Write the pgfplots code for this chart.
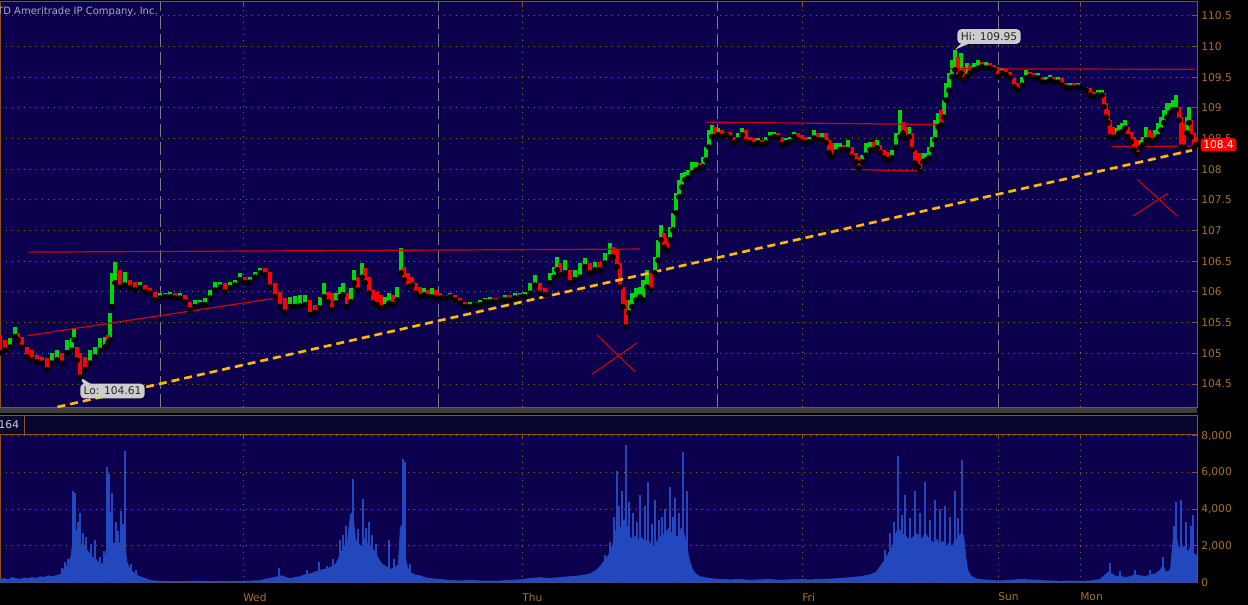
\documentclass[border=0pt]{standalone}
\usepackage{pgfplots}
\pgfplotsset{compat=1.18}
\usepackage{pgfplotstable}
\usepackage{fontspec}
\setmainfont{DejaVu Sans}
\definecolor{navy}{RGB}{12,0,78}
\definecolor{stripc}{RGB}{10,6,50}
\definecolor{hatchc}{RGB}{62,62,62}
\definecolor{oline}{RGB}{135,85,25}
\definecolor{gdot}{RGB}{150,100,30}
\definecolor{ttext}{RGB}{165,115,45}
\definecolor{upg}{RGB}{0,215,0}
\definecolor{dnr}{RGB}{255,0,0}
\definecolor{volb}{RGB}{35,72,190}
\definecolor{tred}{RGB}{210,0,10}
\definecolor{tyel}{RGB}{255,185,0}
\definecolor{cgray}{RGB}{205,205,205}
\definecolor{dgray}{RGB}{125,125,135}
\definecolor{cpy}{RGB}{170,170,200}
\newcommand{\fs}{\fontsize{8}{9.6}\selectfont}

\pgfplotstableread{
x lo hi c
0 105.01 105.30 0
5 105.05 105.22 0
10 105.10 105.25 1
15 105.27 105.43 1
18 105.22 105.33 0
22 105.10 105.27 0
27 104.94 105.10 0
32 104.89 105.05 0
37 104.86 104.97 0
42 104.84 104.94 0
47 104.73 104.92 0
52 104.84 105.01 1
57 104.89 105.05 1
62 104.84 105.01 0
67 105.01 105.22 1
72 105.05 105.25 1
74 105.22 105.41 1
77 104.89 105.10 0
80 104.61 105.01 0
85 104.73 104.94 0
90 104.84 105.05 1
95 104.94 105.10 1
100 105.05 105.25 1
105 105.10 105.27 1
108 105.17 105.30 0
110 105.22 105.66 1
112 105.76 106.31 1
115 106.15 106.49 1
120 106.08 106.36 0
125 106.11 106.33 1
130 106.07 106.20 0
135 106.03 106.16 0
140 106.07 106.16 1
145 106.00 106.11 0
150 105.98 106.07 0
155 105.87 106.00 0
160 105.90 105.98 1
165 105.92 105.98 1
170 105.92 106.00 1
175 105.90 105.98 0
180 105.90 105.98 1
185 105.84 105.95 0
190 105.71 105.84 0
195 105.76 105.87 1
200 105.79 105.87 1
205 105.79 105.90 1
210 105.90 106.03 1
215 106.03 106.16 1
220 106.08 106.16 1
225 106.00 106.15 0
230 106.07 106.16 1
235 106.11 106.20 1
240 106.20 106.31 1
245 106.15 106.24 0
250 106.16 106.24 1
255 106.24 106.33 1
260 106.31 106.39 1
265 106.28 106.39 0
270 106.08 106.33 0
275 105.92 106.15 0
280 105.76 106.00 0
285 105.67 105.90 0
290 105.76 105.92 1
295 105.76 105.93 1
300 105.77 105.95 1
305 105.79 105.95 1
310 105.63 105.87 0
315 105.66 105.79 0
320 105.74 105.92 1
324 105.92 106.15 1
328 105.84 106.00 0
332 105.71 105.98 0
336 105.82 105.98 1
340 105.92 106.08 1
343 105.95 106.15 1
347 105.76 105.98 0
351 105.84 106.07 1
354 106.15 106.36 1
358 106.03 106.24 0
362 106.24 106.47 1
365 106.15 106.39 0
369 105.98 106.24 0
373 105.82 106.03 0
377 105.79 106.00 0
381 105.74 105.95 0
385 105.76 105.92 1
389 105.82 105.98 1
393 105.79 105.95 0
397 105.87 106.08 1
401 106.31 106.72 1
404 106.20 106.41 0
408 106.08 106.31 0
412 106.11 106.24 0
416 105.98 106.15 0
420 105.92 106.08 0
424 105.95 106.07 1
428 105.92 106.03 0
432 105.92 106.07 1
436 105.90 106.03 0
440 105.90 105.98 0
445 105.90 105.95 0
450 105.92 105.98 1
455 105.87 105.95 0
460 105.82 105.90 0
465 105.76 105.84 0
470 105.76 105.84 1
475 105.79 105.84 1
480 105.79 105.87 1
485 105.84 105.90 1
490 105.84 105.92 1
495 105.84 105.90 0
500 105.87 105.92 1
505 105.87 105.95 1
510 105.87 105.95 0
515 105.90 105.98 1
520 105.92 105.98 1
525 105.92 106.00 1
530 105.98 106.15 1
535 106.11 106.28 1
540 105.98 106.15 0
545 105.95 106.07 0
550 106.15 106.31 1
554 106.24 106.41 1
557 106.36 106.57 1
560 106.28 106.47 0
565 106.31 106.52 1
570 106.15 106.36 0
575 106.20 106.36 1
580 106.24 106.47 1
585 106.41 106.55 1
590 106.31 106.47 0
595 106.36 106.49 1
600 106.36 106.49 0
605 106.47 106.64 1
610 106.57 106.80 1
613 106.57 106.73 0
617 106.41 106.68 0
620 106.08 106.47 0
623 105.76 106.08 0
626 105.43 105.87 0
629 105.66 105.87 1
632 105.76 105.98 1
636 105.87 106.07 1
640 105.92 106.08 1
643 105.87 106.20 1
647 106.08 106.36 1
651 106.03 106.31 0
655 106.31 106.57 1
658 106.52 106.85 1
661 106.85 107.09 1
664 106.73 106.96 0
667 106.68 106.88 0
670 106.85 107.06 1
673 107.01 107.29 1
676 107.29 107.61 1
679 107.55 107.83 1
682 107.71 107.94 1
685 107.83 107.96 1
688 107.86 107.99 1
692 107.94 108.12 1
696 107.99 108.12 1
700 108.02 108.10 0
703 108.04 108.20 1
706 108.15 108.36 1
709 108.36 108.64 1
712 108.53 108.72 1
715 108.53 108.69 0
718 108.56 108.67 1
722 108.53 108.64 0
726 108.56 108.61 1
730 108.51 108.61 0
734 108.43 108.53 0
738 108.48 108.59 1
742 108.56 108.67 1
746 108.45 108.64 0
750 108.43 108.53 0
754 108.40 108.51 0
758 108.43 108.51 1
762 108.40 108.48 0
766 108.43 108.53 1
770 108.51 108.61 1
774 108.53 108.61 1
778 108.51 108.59 0
782 108.40 108.53 0
786 108.43 108.51 1
790 108.45 108.53 1
794 108.53 108.61 1
798 108.48 108.59 0
802 108.45 108.56 0
806 108.43 108.53 0
810 108.45 108.53 1
814 108.51 108.64 1
818 108.48 108.59 0
822 108.48 108.59 1
826 108.43 108.59 0
829 108.27 108.48 0
832 108.20 108.43 0
836 108.28 108.43 1
840 108.32 108.43 1
844 108.32 108.40 0
848 108.32 108.48 1
852 108.20 108.36 0
856 108.12 108.27 0
859 108.02 108.20 0
862 108.12 108.23 1
866 108.23 108.43 1
870 108.32 108.45 1
874 108.32 108.45 0
877 108.35 108.48 1
880 108.27 108.40 0
884 108.19 108.32 0
888 108.15 108.28 0
892 108.19 108.32 1
896 108.36 108.59 1
900 108.53 108.97 1
903 108.59 108.77 0
906 108.51 108.69 0
909 108.53 108.69 1
912 108.32 108.59 0
915 108.10 108.32 0
918 108.04 108.27 0
920 107.96 108.27 0
923 108.12 108.27 1
926 108.15 108.27 1
929 108.19 108.36 1
932 108.32 108.53 1
935 108.48 108.80 1
938 108.69 108.92 1
941 108.72 108.97 0
944 108.85 109.13 1
946 109.13 109.41 1
949 109.29 109.57 1
952 109.51 109.78 1
955 109.62 109.95 1
958 109.51 109.83 0
961 109.57 109.90 1
964 109.46 109.67 0
967 109.51 109.73 1
970 109.57 109.70 0
974 109.62 109.73 1
978 109.65 109.78 1
982 109.67 109.75 0
986 109.65 109.75 1
990 109.65 109.73 0
994 109.62 109.70 0
998 109.51 109.67 0
1002 109.57 109.65 1
1006 109.54 109.65 0
1010 109.49 109.59 0
1014 109.34 109.49 0
1018 109.29 109.41 0
1022 109.37 109.51 1
1026 109.49 109.62 1
1030 109.51 109.59 0
1034 109.49 109.57 0
1038 109.49 109.57 1
1042 109.42 109.51 0
1046 109.42 109.51 1
1050 109.46 109.54 1
1054 109.42 109.51 0
1058 109.42 109.51 1
1062 109.37 109.49 0
1066 109.33 109.41 0
1070 109.33 109.41 1
1074 109.33 109.41 0
1078 109.34 109.41 1
1082 109.33 109.37 0
1086 109.29 109.34 0
1090 109.21 109.33 0
1094 109.18 109.26 0
1098 109.21 109.29 1
1102 109.21 109.29 1
1104 109.02 109.24 0
1106 108.85 109.08 0
1108 108.76 108.97 0
1110 108.53 108.80 0
1113 108.51 108.69 0
1116 108.53 108.67 1
1119 108.59 108.72 1
1122 108.61 108.76 1
1125 108.67 108.80 1
1128 108.53 108.69 0
1131 108.45 108.61 0
1134 108.32 108.53 0
1137 108.24 108.48 0
1140 108.35 108.48 1
1143 108.40 108.53 1
1146 108.48 108.69 1
1149 108.48 108.64 0
1152 108.43 108.59 0
1155 108.48 108.64 1
1158 108.53 108.76 1
1161 108.64 108.85 1
1164 108.76 108.97 1
1167 108.85 109.08 1
1170 108.92 109.08 1
1173 108.97 109.13 1
1176 108.97 109.21 1
1179 108.80 109.02 0
1181 108.36 108.85 0
1184 108.36 108.76 0
1187 108.59 108.85 1
1189 108.76 109.02 1
1191 108.53 108.80 0
1194 108.36 108.59 0
1196 108.40 108.53 0
}\price

\pgfplotstableread{
x v
0 200
4 250
8 180
12 300
16 250
20 200
24 280
28 250
32 300
36 250
40 350
44 300
48 400
52 350
56 400
60 450
63 700
66 900
69 1200
71 1500
73 2800
75 3000
77 2800
79 2600
81 2100
84 2000
87 1800
90 1600
93 1400
96 1300
99 1100
102 1000
105 1400
107 2200
109 3800
111 3900
113 2200
116 2100
119 2100
122 2500
125 2400
127 1200
129 900
132 650
135 500
138 400
142 300
146 250
150 150
155 120
160 100
170 90
180 80
190 100
200 110
210 80
220 100
230 90
240 100
250 110
260 140
266 220
272 280
278 350
282 400
286 300
290 250
295 300
300 350
305 450
310 500
315 600
320 700
325 750
330 850
335 1000
338 1300
341 1700
344 2000
347 2200
350 3700
353 3900
356 2300
359 2100
362 2000
365 2500
368 2100
371 2000
374 1800
377 1500
380 1200
383 1000
386 900
389 800
392 750
395 850
398 1000
400 3000
403 3300
405 1500
408 800
411 550
415 450
420 400
425 300
430 250
440 200
450 150
460 120
470 150
480 120
490 100
500 120
510 150
520 180
530 250
540 300
550 250
560 300
570 350
580 400
590 500
596 700
600 900
604 1200
608 1500
612 2000
615 2800
618 3200
621 3000
624 3500
627 3200
630 2500
633 2400
636 2600
639 2300
642 2500
645 2200
648 2400
651 2100
654 2000
657 2300
660 2500
663 2600
666 2800
669 3000
672 2700
675 2600
678 2500
681 3000
684 2800
687 2000
690 1200
693 700
696 500
700 350
710 250
720 200
730 180
740 200
750 150
760 180
770 200
780 150
790 180
800 200
810 180
820 200
830 220
840 250
850 300
860 350
870 450
876 600
880 900
884 1200
888 1600
892 2000
895 2600
898 3000
901 2800
904 2600
907 2500
910 2300
913 2500
916 2700
919 2600
922 2400
925 2800
928 2500
931 2300
934 2200
937 2400
940 2100
943 2300
946 2000
949 2200
952 2000
955 2300
958 2500
961 2700
964 2600
966 1500
968 700
971 400
975 250
980 200
990 150
1000 120
1010 150
1020 200
1030 180
1040 150
1050 120
1060 100
1070 120
1080 100
1090 120
1100 200
1104 400
1108 600
1112 500
1116 350
1120 400
1125 300
1130 350
1135 450
1140 400
1145 350
1150 450
1155 500
1160 700
1163 1000
1166 600
1170 700
1173 2500
1176 2700
1179 1900
1182 1950
1185 2000
1188 1700
1191 2100
1194 1600
1197 1500
}\vol

\pgfplotstableread{
x v
62 800
65 1100
68 1300
73 5000
75 4900
78 3300
80 3800
83 2700
86 2500
91 2100
95 2300
100 1400
104 1700
107 6300
109 5900
112 4900
116 3300
118 2800
121 3900
123 3200
125 7150
131 1000
136 700
279 800
307 700
319 1100
327 900
333 1300
340 2300
343 2600
346 3100
353 5650
358 2900
363 4550
366 3000
369 3300
372 2600
376 2100
389 2300
394 1300
403 6750
405 6550
410 1000
605 1500
610 2200
614 3600
617 6100
619 4200
622 5000
626 7500
629 4400
633 3800
637 3300
640 4800
645 4200
648 5500
652 3200
655 4500
659 3400
662 3600
665 4000
670 5200
673 3600
675 4600
679 3800
683 7100
687 5000
885 1800
890 2700
894 3300
898 6900
902 3700
905 4800
910 3500
915 5000
920 3800
925 5500
930 3400
935 4500
940 4000
945 4200
950 3600
955 5000
958 3500
962 6700
1110 1050
1120 650
1135 700
1150 700
1163 1400
1174 3100
1176 4400
1181 4500
1186 3300
1191 3100
1193 3700
}\spk

\begin{document}
\begin{tikzpicture}
\useasboundingbox (0,0) rectangle (936pt,-453.75pt);
\fill[black] (0,0) rectangle (936pt,-453.75pt);
% separator strip
\fill[hatchc] (0,-306pt) rectangle (897.75pt,-309.75pt);
\fill[stripc] (0,-311.25pt) rectangle (897.75pt,-325.5pt);
\draw[oline, line width=0.75pt] (0,-311.25pt) -- (897.75pt,-311.25pt) -- (897.75pt,-325.5pt);
\draw[oline, line width=0.75pt] (18pt,-311.25pt) -- (18pt,-325.5pt);
\node[anchor=east, text=cgray, font=\fs, inner sep=0pt] at (14.5pt,-318.4pt) {164};

\begin{axis}[
  at={(0pt,-1.5pt)}, anchor=north west, scale only axis,
  width=897.75pt, height=303.75pt,
  xmin=0, xmax=1197, ymin=104.125, ymax=110.728,
  clip=false,
  axis background/.style={fill=navy},
  axis line style={draw=oline, line width=0.75pt},
  ytick={104.5,105,105.5,106,106.5,107,107.5,108,108.5,109,109.5,110,110.5},
  yticklabels={104.5,105,105.5,106,106.5,107,107.5,108,108.5,109,109.5,110,110.5},
  ytick pos=right, yticklabel pos=right,
  xtick={243,522,802,1080}, xticklabels={}, xtick pos=right,
  extra x ticks={160,438,717,998}, extra x tick labels={},
  extra x tick style={major tick length=0pt, grid style={dgray, line width=0.75pt, dash pattern=on 9.75pt off 3.75pt}},
  tick align=inside, major tick length=3.5pt,
  tick style={oline, line width=0.75pt},
  xmajorgrids, ymajorgrids,
  grid style={gdot, line width=0.75pt, dash pattern=on 0.75pt off 3.75pt},
  yticklabel style={text=ttext, font=\fs, anchor=west, inner sep=0pt, xshift=3pt},
]
\addplot[only marks, mark=none, unbounded coords=discard,
  restrict expr to domain={\thisrow{c}}{0.5:1.5},
  error bars/.cd, y dir=plus, y explicit, error mark=none,
  error bar style={draw=upg, line width=3.3pt}]
  table[x=x, y=lo, y error expr={\thisrow{hi}-\thisrow{lo}}] {\price};
\addplot[only marks, mark=none, unbounded coords=discard,
  restrict expr to domain={\thisrow{c}}{-0.5:0.5},
  error bars/.cd, y dir=plus, y explicit, error mark=none,
  error bar style={draw=dnr, line width=3.3pt}]
  table[x=x, y=lo, y error expr={\thisrow{hi}-\thisrow{lo}}] {\price};
% trend lines
\addplot[tred, line width=0.9pt] coordinates {(28,106.65) (640,106.70)};
\addplot[tred, line width=0.9pt] coordinates {(28,105.29) (280,105.91)};
\addplot[tred, line width=0.9pt] coordinates {(705,108.77) (940,108.73)};
\addplot[tred, line width=0.9pt] coordinates {(850,108.00) (922,107.97)};
\addplot[tred, line width=0.9pt] coordinates {(950,109.64) (1195,109.63)};
\addplot[tred, line width=0.9pt] coordinates {(1112,108.37) (1197,108.38)};
\addplot[tyel, line width=2pt, dash pattern=on 6pt off 3.75pt] coordinates {(57.4,104.125) (1192,108.31)};
% X marks
\addplot[tred, line width=0.8pt] coordinates {(597,105.30) (635,104.70)};
\addplot[tred, line width=0.8pt] coordinates {(592,104.66) (637,105.17)};
\addplot[tred, line width=0.8pt] coordinates {(1137,107.84) (1177,107.24)};
\addplot[tred, line width=0.8pt] coordinates {(1133,107.24) (1168,107.61)};
% callouts
\fill[cgray] (axis cs:955,109.95) -- (axis cs:961,110.05) -- (axis cs:969,110.05) -- cycle;
\node[fill=cgray, rounded corners=3pt, inner xsep=2.5pt, inner ysep=0pt, minimum height=11pt, text=black!85, font=\fs] at (axis cs:989,110.166) {Hi: 109.95};
\fill[cgray] (axis cs:80,104.61) -- (axis cs:84,104.49) -- (axis cs:92,104.49) -- cycle;
\node[fill=cgray, rounded corners=3pt, inner xsep=2.5pt, inner ysep=0pt, minimum height=11pt, text=black!85, font=\fs] at (axis cs:112.5,104.385) {Lo: 104.61};
\coordinate (lastlab) at (axis cs:1218.5,108.40);
\end{axis}
\node[fill=dnr, rounded corners=2.5pt, inner xsep=2pt, inner ysep=0pt, minimum height=10pt, text=white, font=\fs] at (lastlab) {108.4};

\begin{axis}[
  at={(0pt,-325.725pt)}, anchor=north west, scale only axis,
  width=897.75pt, height=111.3pt,
  xmin=0, xmax=1197, ymin=0, ymax=8080,
  axis background/.style={fill=navy},
  axis line style={draw=oline, line width=0.75pt},
  ytick={0,2000,4000,6000,8000},
  yticklabels={0,{2,000},{4,000},{6,000},{8,000}},
  ytick pos=right, yticklabel pos=right,
  xtick={243,522,802,998,1080}, xticklabels={Wed,Thu,Fri,Sun,Mon},
  xtick pos=right, xticklabel pos=left,
  tick align=inside, major tick length=3.5pt,
  tick style={oline, line width=0.75pt},
  xmajorgrids, ymajorgrids,
  grid style={gdot, line width=0.75pt, dash pattern=on 0.75pt off 3.75pt},
  yticklabel style={text=ttext, font=\fs, anchor=west, inner sep=0pt, xshift=3pt},
  xticklabel style={text=ttext, font=\fs, anchor=north west, inner sep=0pt, yshift=-7.5pt},
]
\addplot[fill=volb, draw=none] table[x=x, y=v] {\vol} \closedcycle;
\addplot[volb, line width=0.9pt, ycomb] table[x=x, y=v] {\spk};
\end{axis}
\node[anchor=base east, text=cpy, font=\fontsize{7.5}{9}\selectfont, inner sep=0pt] at (118.5pt,-11.25pt) {\textcopyright\ TD Ameritrade IP Company, Inc.};
\end{tikzpicture}
\end{document}
